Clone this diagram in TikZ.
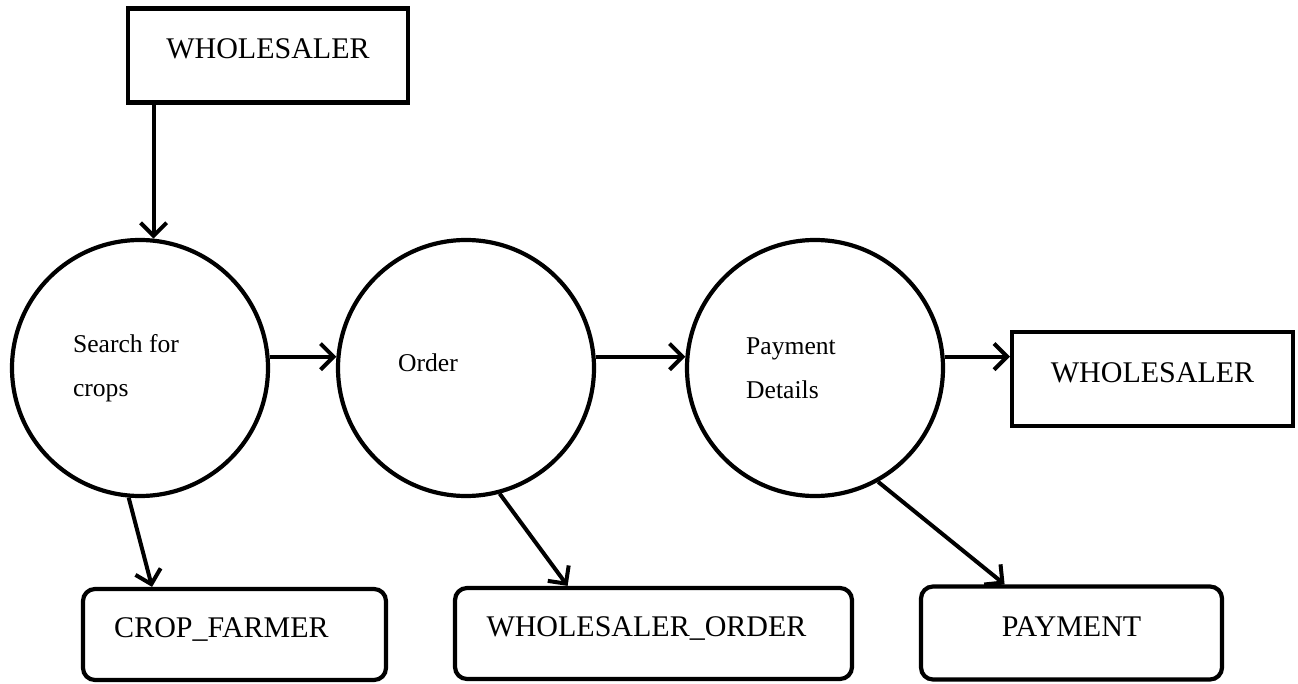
\documentclass[tikz,border=0pt]{standalone}
\usepackage{fontspec}
\setmainfont{Liberation Serif}
\usetikzlibrary{arrows.meta}
\begin{document}
\begin{tikzpicture}[x=1pt,y=-1pt,
  extbox/.style={draw, line width=4.2pt, minimum height=94pt,
    text height=20pt, text depth=14pt, font=\fontsize{30}{36}\selectfont},
  entity/.style={extbox, rounded corners=12pt, minimum height=91pt},
  process/.style={draw, circle, line width=4.2pt, minimum size=256pt,
    inner sep=0pt, align=left, font=\fontsize{25.6}{44.5}\selectfont},
  flow/.style={line width=4pt, -{Straight Barb[length=13pt,width=26pt]}}
]
\useasboundingbox (0,0) rectangle (1298,684);

% external entities
\node[extbox, minimum width=280pt] (w1) at (268,55.5) {WHOLESALER};
\node[extbox, minimum width=281pt] (w2) at (1152.5,379) {WHOLESALER};

% processes
\node[process] (c1) at (140,368) {Search for\hspace*{28pt}\\crops};
\node[process] (c2) at (466,368) {\raisebox{5pt}[0.68em][0pt]{Order}\hspace*{76pt}};
\node[process] (c3) at (815,368) {Payment\hspace*{48pt}\\Details};

% data stores
\node[entity, minimum width=303pt] (cf) at (234.5,634.5) {CROP\_FARMER\hspace*{26pt}};
\node[entity, minimum width=397pt] (wo) at (653.5,633.5) {WHOLESALER\_ORDER\hspace*{14pt}};
\node[entity, minimum width=301pt, minimum height=93pt] (pay) at (1071.5,633) {PAYMENT};

% flows
\draw[flow] (c1.84 |- w1.south) -- (c1.84);
\draw[flow] (c1.5) -- (c2.175);
\draw[flow] (c2.5) -- (c3.175);
\draw[flow] (c3.5) -- (c3.5 -| w2.west);
\draw[flow] (c1.265) -- (cf.150);
\draw[flow] (c2.285) -- (wo.151);
\draw[flow] (c3.299) -- (pay.144);
\end{tikzpicture}
\end{document}
